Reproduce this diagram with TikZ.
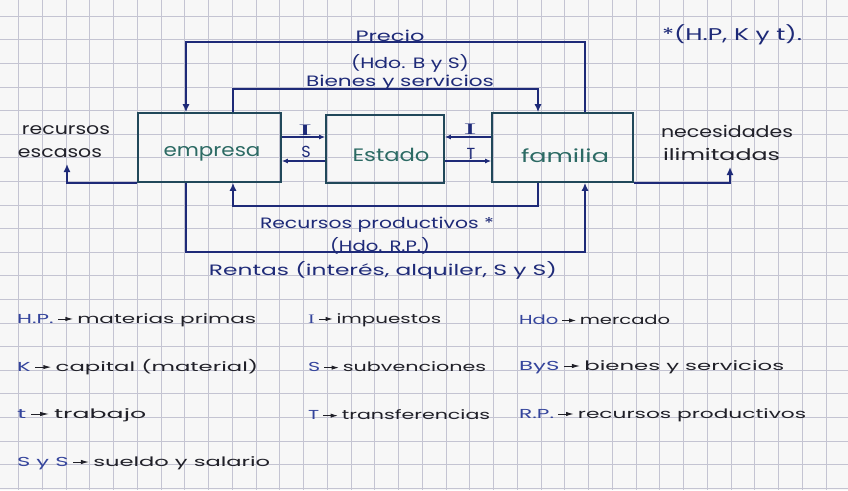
\documentclass[tikz,border=0pt]{standalone}
\usepackage{fontspec}
\setmainfont{Poppins}
\newfontfamily\serifI{Liberation Serif}
\usetikzlibrary{arrows.meta}
\definecolor{paper}{HTML}{F7F7F7}
\definecolor{gridc}{HTML}{C4C4D2}
\definecolor{navy}{HTML}{1E2A78}
\definecolor{boxc}{HTML}{21485A}
\definecolor{teal}{HTML}{2C6A64}
\definecolor{ink}{HTML}{202028}
\definecolor{abbr}{HTML}{34449C}
\newcommand\fw[2]{\resizebox{#1pt}{\height}{#2}}
\newcommand\ab[1]{\textcolor{abbr}{#1}}
\newcommand\ar{\,\tikz[baseline=-0.6ex]\draw[ink, line width=0.9pt, -{Latex[length=4.5pt,width=4.5pt]}] (0pt,0pt) -- (9pt,0pt);\,}
\tikzset{
  gridline/.style={draw=gridc, line width=0.6pt},
  box/.style={draw=boxc, line width=1.6pt, inner sep=0pt},
  flow/.style={draw=navy, line width=1.5pt, -{Latex[length=8pt,width=7pt]}},
  sflow/.style={draw=navy, line width=1.3pt, -{Latex[length=6pt,width=5pt]}},
  lbl/.style={inner sep=0pt, text=navy, font=\fontsize{15}{17}\selectfont},
  slbl/.style={inner sep=0pt, text=navy, font=\fontsize{16}{18}\selectfont},
  boxtxt/.style={inner sep=0pt, text=teal, font=\fontsize{18}{20}\selectfont},
  side/.style={inner sep=0pt, text=ink, font=\fontsize{16}{18}\selectfont},
  legend/.style={inner sep=0pt, anchor=west, text=ink, font=\fontsize{13}{15}\selectfont},
}
\begin{document}
\begin{tikzpicture}[x=1pt,y=-1pt]
\useasboundingbox (0,0) rectangle (848,490);
\fill[paper] (0,0) rectangle (848,490);
\begin{scope}
\clip (0,0) rectangle (848,490);
\foreach \k in {-1,...,35} \draw[gridline] ({18.5+23.75*\k},0) -- ({18.5+23.75*\k},490);
\foreach \k in {-1,...,20} \draw[gridline] (0,{16+23.6*\k}) -- (848,{16+23.6*\k});
\end{scope}

% boxes
\node[box, minimum width=143pt, minimum height=69pt] (emp) at (209.5,147.5) {};
\node[box, minimum width=118pt, minimum height=68pt] (est) at (385,149) {};
\node[box, minimum width=141pt, minimum height=69pt] (fam) at (562.5,147.5) {};
\node[boxtxt] (tEmp) at (212,154) {\fw{97}{empresa}};
\node[boxtxt] (tEst) at (391,155) {\fw{77}{Estado}};
\node[boxtxt] (tFam) at (565,156) {\fw{88}{familia}};

% helper coordinates
\coordinate (xa) at (186,0);
\coordinate (xb) at (233,0);
\coordinate (xc) at (538,0);
\coordinate (xd) at (585,0);
\coordinate (yP) at (0,42);
\coordinate (yB) at (0,89);
\coordinate (yR) at (0,206);
\coordinate (yT) at (0,252);
\coordinate (yI) at (0,137);
\coordinate (yS) at (0,161);
\coordinate (re) at (67,164);
\coordinate (ni) at (730,167);

% big loops
\draw[flow] (fam.north -| xd) -- (xd |- yP) -- (xa |- yP) -- (emp.north -| xa);
\draw[flow] (emp.north -| xb) -- (xb |- yB) -- (xc |- yB) -- (fam.north -| xc);
\draw[flow] (fam.south -| xc) -- (xc |- yR) -- (xb |- yR) -- (emp.south -| xb);
\draw[flow] (emp.south -| xa) -- (xa |- yT) -- (xd |- yT) -- (fam.south -| xd);

% state arrows
\draw[sflow] (emp.east |- yI) -- (est.west |- yI);
\draw[sflow] (est.west |- yS) -- (emp.east |- yS);
\draw[sflow] (fam.west |- yI) -- (est.east |- yI);
\draw[sflow] (est.east |- yS) -- (fam.west |- yS);
\node[slbl] (lI1) at (305,130) {\fw{14}{\serifI I}};
\node[slbl] (lS1) at (306,152) {S};
\node[slbl] (lI2) at (470,129) {\fw{13}{\serifI I}};
\node[slbl] (lT2) at (471,154) {T};

% outer arrows
\draw[flow] (emp.south west) -| (re);
\draw[flow] (fam.south east) -| (ni);

% connector labels
\node[lbl] (lPrecio) at (390,36) {\fw{69}{Precio}};
\node[lbl] (lHdoB) at (410,63) {\fw{118}{(Hdo. B y S)}};
\node[lbl] (lBienes) at (400,83) {\fw{188}{Bienes y servicios}};
\node[lbl] (lRec) at (377,225) {\fw{234}{Recursos productivos *}};
\node[lbl] (lHdoR) at (380,246) {\fw{100}{(Hdo. R.P.)}};
\node[lbl] (lRentas) at (383,270) {\fw{348}{Rentas (interés, alquiler, S y S)}};

% side labels
\node[side] (sRec1) at (66,130) {\fw{88}{recursos}};
\node[side] (sRec2) at (60,153) {\fw{84}{escasos}};
\node[side] (sNec1) at (727,131) {\fw{132}{necesidades}};
\node[side] (sNec2) at (721.5,154) {\fw{117}{ilimitadas}};
\node[lbl, font=\fontsize{17}{19}\selectfont] (note) at (732,35) {\fw{140}{*(H.P, K y t).}};

% legend
\node[legend] (g1) at (17,320) {\fw{239}{\ab{H.P.}\ar materias primas}};
\node[legend] (g2) at (17,367) {\fw{241}{\ab{K}\ar capital (material)}};
\node[legend] (g3) at (17,415) {\fw{129}{\ab{t}\ar trabajo}};
\node[legend] (g4) at (17,463) {\fw{253}{\ab{S y S}\ar sueldo y salario}};
\node[legend] (g5) at (308,320) {\fw{133}{\ab{\serifI I}\ar impuestos}};
\node[legend] (g6) at (308,367) {\fw{178}{\ab{S}\ar subvenciones}};
\node[legend] (g7) at (308,415) {\fw{182}{\ab{T}\ar transferencias}};
\node[legend] (g8) at (519,320) {\fw{151}{\ab{Hdo}\ar mercado}};
\node[legend] (g9) at (519,367) {\fw{265}{\ab{ByS}\ar bienes y servicios}};
\node[legend] (g10) at (519,415) {\fw{287}{\ab{R.P.}\ar recursos productivos}};
\end{tikzpicture}
\end{document}
